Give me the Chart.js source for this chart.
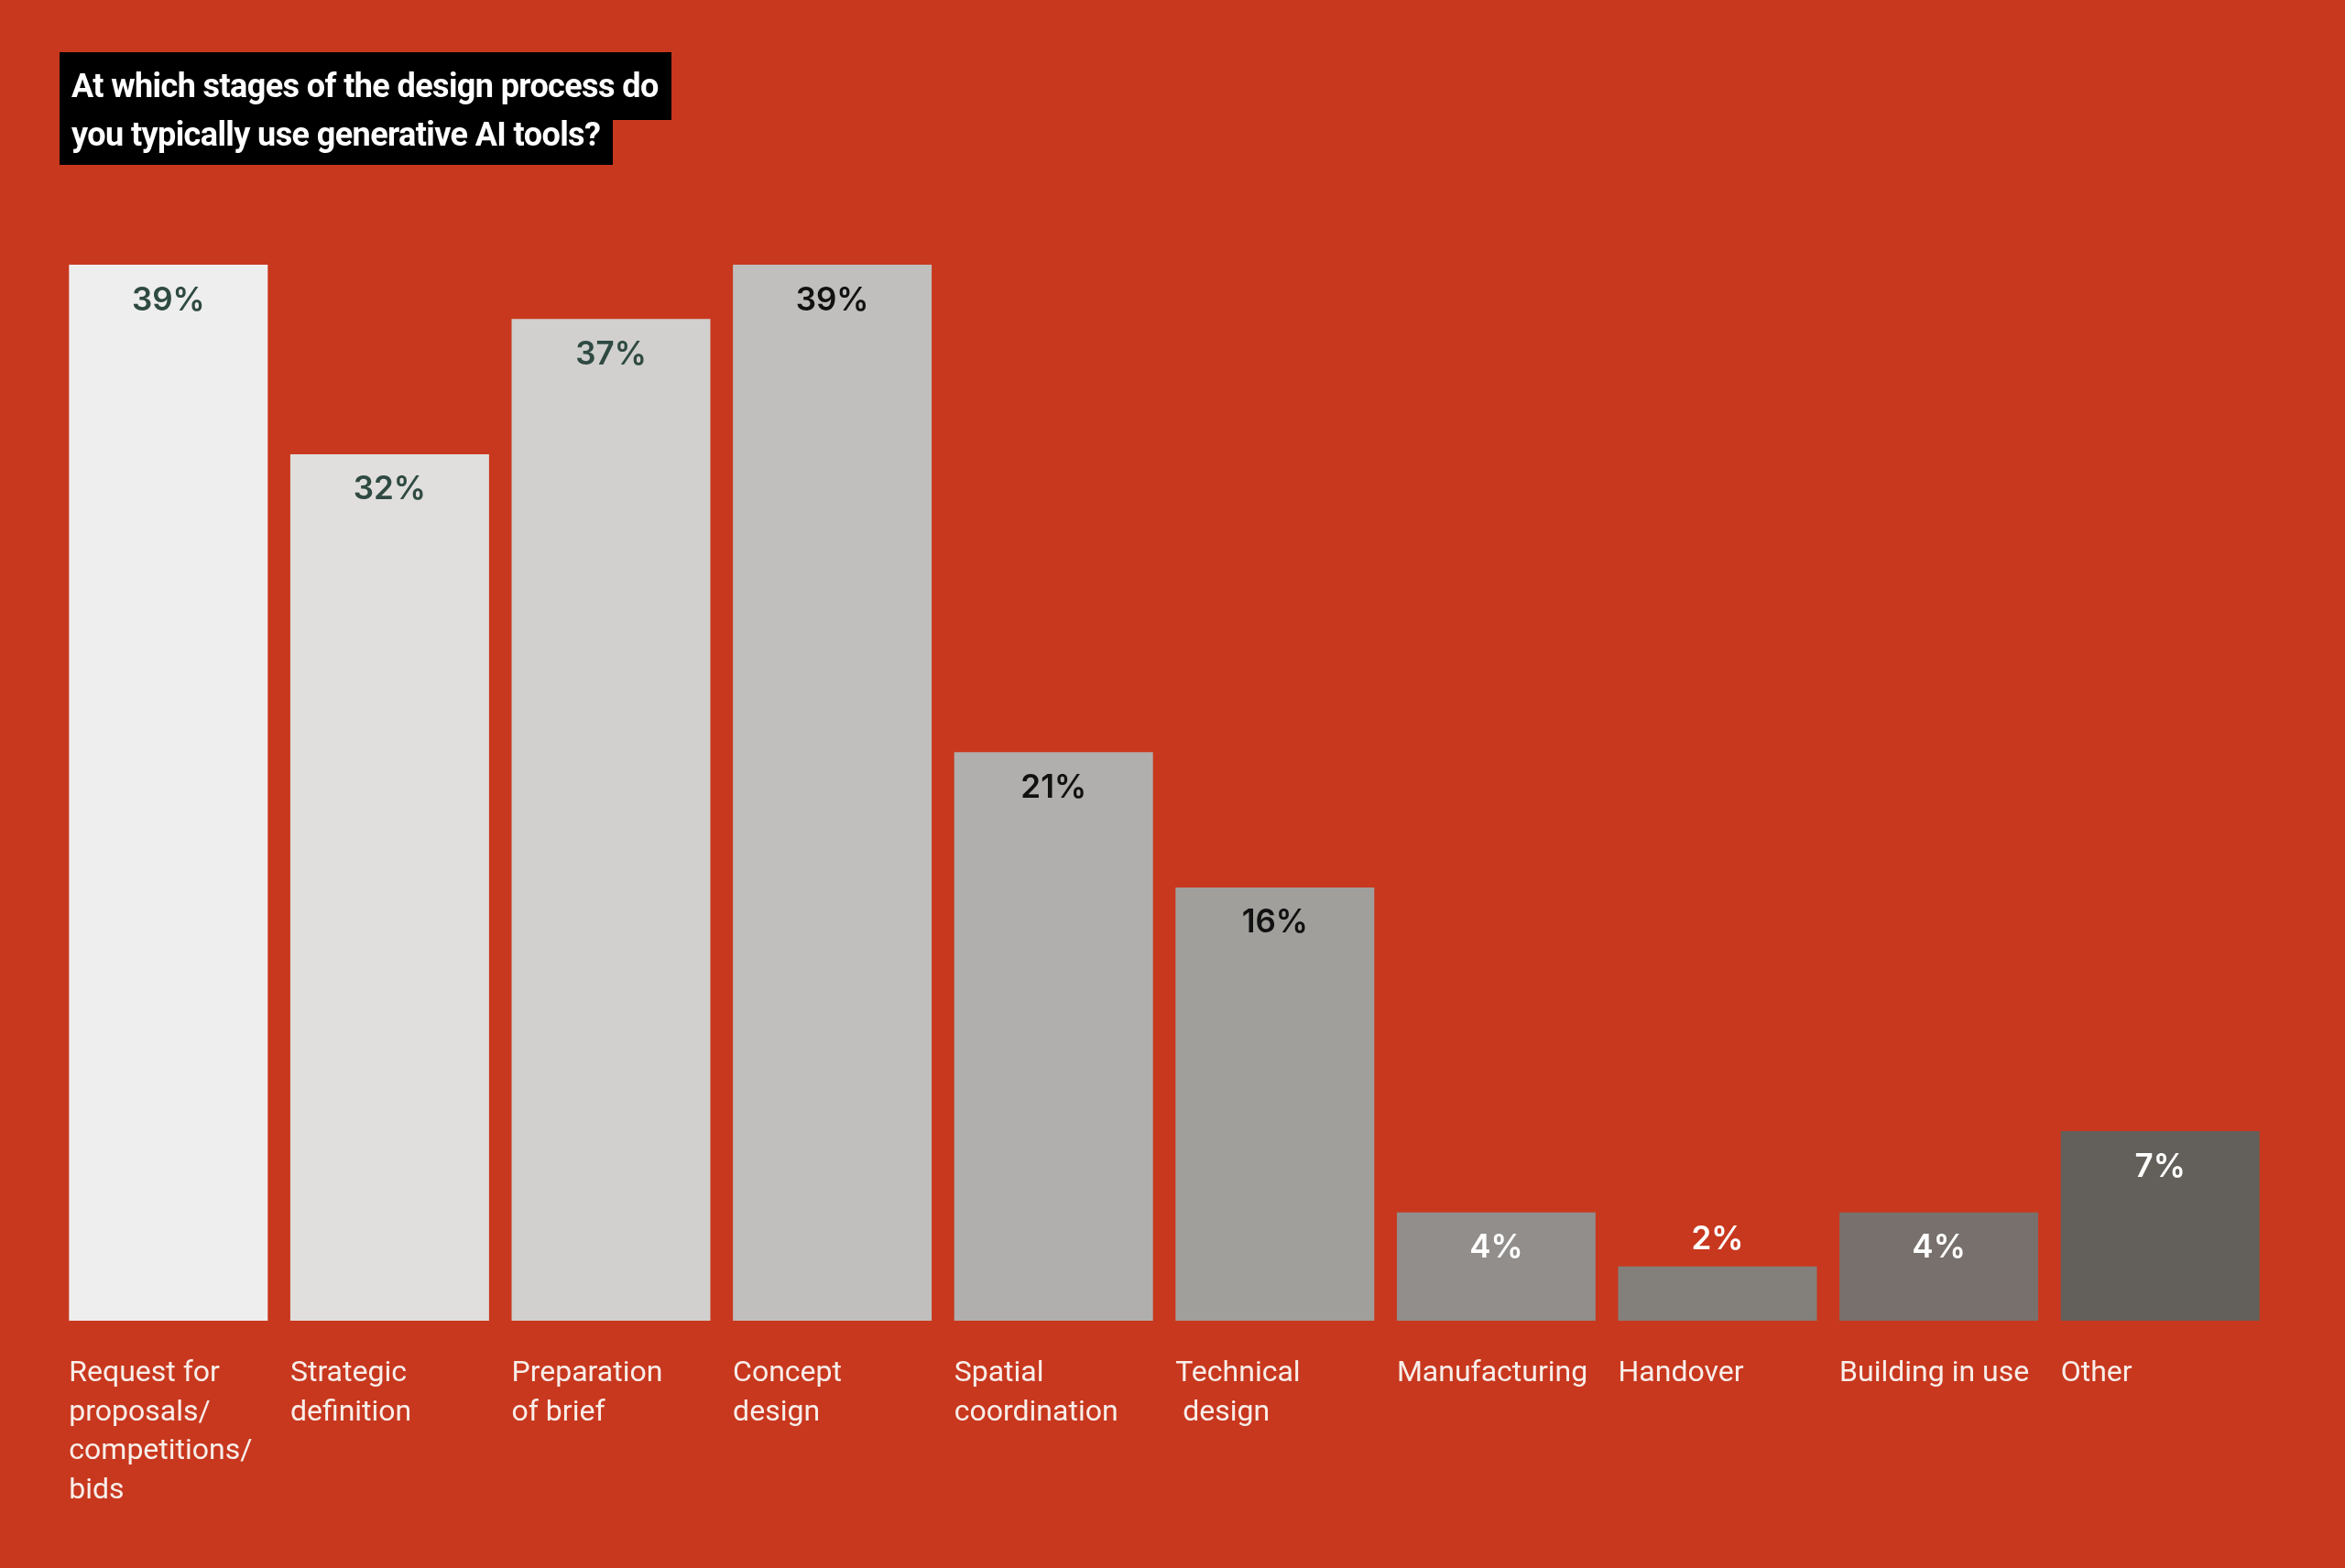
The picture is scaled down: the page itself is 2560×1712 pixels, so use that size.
<!DOCTYPE html>
<html>
<head>
<meta charset="utf-8">
<script src="https://cdn.jsdelivr.net/npm/chart.js@4.4.1/dist/chart.umd.min.js"></script>
<style>
    html, body {
        margin: 0;
        padding: 0;
        background: #c8381e;
    }
    #wrap {
        position: relative;
        width: 2560px;
        height: 1712px;
        background: #c8381e;
        overflow: hidden;
    }
    #title {
        position: absolute;
        left: 65px;
        top: 57px;
        font-family: 'Liberation Sans Narrow', 'Roboto', sans-serif;
        font-weight: bold;
        font-size: 36px;
        color: #ffffff;
        letter-spacing: -0.6px;
    }
    #title span {
        display: table;
        background: #000000;
        padding: 0 14px 0 13px;
        white-space: nowrap;
    }
    #title .l1 { height: 67px; line-height: 74px; }
    #title .l2 { height: 49px; line-height: 32px; }
    canvas { position: absolute; left: 0; top: 0; }
</style>
</head>
<body>
<div id="wrap">
    <canvas id="stagesChart" width="2560" height="1712"></canvas>
    <div id="title">
        <span class="l1">At which stages of the design process do</span>
        <span class="l2">you typically use generative AI tools?</span>
    </div>
</div>
<script>
const categories = [
    ['Request for', 'proposals/', 'competitions/', 'bids'],
    ['Strategic', 'definition'],
    ['Preparation', 'of brief'],
    ['Concept', 'design'],
    ['Spatial', 'coordination'],
    ['Technical', ' design'],
    ['Manufacturing'],
    ['Handover'],
    ['Building in use'],
    ['Other']
];
const shares = [39, 32, 37, 39, 21, 16, 4, 2, 4, 7];
const barColors = ['#efeeee', '#e0dfdd', '#d1d0ce', '#c0bfbd', '#b0afad',
                   '#a09f9c', '#918e8c', '#83807c', '#78706c', '#635f5a'];
const valueColors = ['#2f4a42', '#2f4a42', '#2f4a42', '#111111', '#111111',
                     '#111111', '#ffffff', '#ffffff', '#ffffff', '#ffffff'];

// value labels + category labels, placed from the bar elements
const barText = {
    id: 'barText',
    afterDatasetsDraw(chart) {
        const ctx = chart.ctx;
        const meta = chart.getDatasetMeta(0);
        ctx.save();
        meta.data.forEach((bar, i) => {
            const left = bar.x - bar.width / 2;
            const h = bar.base - bar.y;

            ctx.font = '600 35px Inter';
            ctx.fillStyle = valueColors[i];
            ctx.textAlign = 'center';
            ctx.textBaseline = 'middle';
            const vy = h > 80 ? bar.y + 39 : bar.y - 29;
            ctx.fillText(shares[i] + '%', bar.x, vy);

            ctx.font = '32px Roboto';
            ctx.fillStyle = '#f8eeea';
            ctx.textAlign = 'left';
            categories[i].forEach((line, j) => {
                ctx.fillText(line, left, bar.base + 58 + j * 42.5);
            });
        });
        ctx.restore();
    }
};

document.addEventListener('DOMContentLoaded', function() {
    const ctx = document.getElementById('stagesChart').getContext('2d');
    new Chart(ctx, {
        type: 'bar',
        data: {
            labels: categories.map(c => c.join(' ')),
            datasets: [{
                data: shares,
                backgroundColor: barColors,
                borderWidth: 0,
                categoryPercentage: 1,
                barPercentage: 0.898
            }]
        },
        options: {
            responsive: false,
            devicePixelRatio: 1,
            animation: false,
            layout: {
                padding: { left: 63, right: 81, top: 289, bottom: 270 }
            },
            plugins: {
                legend: { display: false },
                tooltip: { enabled: false }
            },
            scales: {
                x: { display: false },
                y: { display: false, min: 0, max: 39 }
            }
        },
        plugins: [barText]
    });
});
</script>
</body>
</html>
